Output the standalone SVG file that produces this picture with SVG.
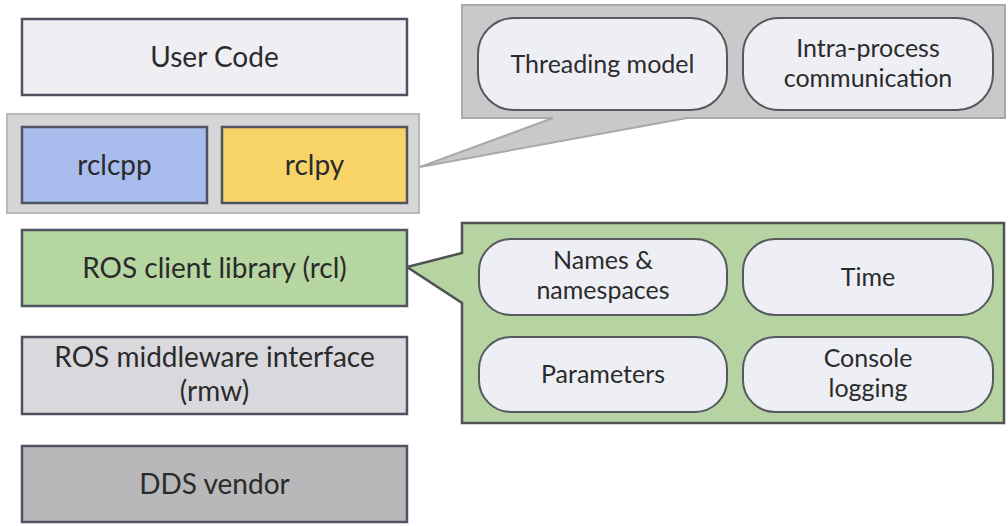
<svg xmlns="http://www.w3.org/2000/svg" width="1008" height="526" viewBox="0 0 1008 526">
<style>
text{font-family:Lato,"Open Sans","Liberation Sans",sans-serif;fill:#2b2b2b;text-anchor:middle}
.big{font-size:28px}
.sm{font-size:25px}
.box{stroke:#4f5361;stroke-width:2.5}
.pill{fill:#eeeff4;stroke:#56595e;stroke-width:2}
</style>
<rect width="1008" height="526" fill="#ffffff"/>
<g id="connectors">
<path id="callout-top" d="M462,5 H1005 V118 H687 L420,167 L553,118 H462 Z" fill="#c9c9c9" stroke="#a9a9a9" stroke-width="2"/>
<path id="callout-rcl" d="M462,223 H1004 V423 H462 V303 L407,267 L462,253 Z" fill="#b6d4a1" stroke="#4f5252" stroke-width="2.5"/>
</g>
<g id="user-code">
<rect class="box" x="22" y="19" width="385" height="76" fill="#efeff3"/>
<text class="big" x="214.5" y="67">User Code</text>
</g>
<g id="client-libs">
<rect x="7" y="114" width="412" height="99" fill="#d6d6d6" stroke="#b8b8b8" stroke-width="2"/>
</g>
<g id="rclcpp">
<rect class="box" x="22" y="127" width="185" height="76" fill="#a8bcee"/>
<text class="big" x="114.5" y="175">rclcpp</text>
</g>
<g id="rclpy">
<rect class="box" x="222" y="127" width="185" height="76" fill="#f8d468"/>
<text class="big" x="314.5" y="175">rclpy</text>
</g>
<g id="rcl">
<rect class="box" x="22" y="230" width="385" height="76" fill="#b7d7a2"/>
<text class="big" x="214.5" y="278">ROS client library (rcl)</text>
</g>
<g id="rmw">
<rect class="box" x="22" y="337" width="385" height="77" fill="#d9d9dd"/>
<text class="big" x="214.5" y="367">ROS middleware interface</text>
<text class="big" x="214.5" y="401">(rmw)</text>
</g>
<g id="dds">
<rect class="box" x="22" y="446" width="385" height="76" fill="#b8b8ba"/>
<text class="big" x="214.5" y="494">DDS vendor</text>
</g>
<g id="threading">
<rect class="pill" x="478" y="18" width="249" height="92" rx="36"/>
<text class="sm" x="602.5" y="73">Threading model</text>
</g>
<g id="intra">
<rect class="pill" x="743" y="18" width="250" height="92" rx="36"/>
<text class="sm" x="868" y="57">Intra-process</text>
<text class="sm" x="868" y="87">communication</text>
</g>
<g id="names">
<rect class="pill" x="479" y="239" width="248" height="76" rx="32"/>
<text class="sm" x="603" y="269">Names &amp;</text>
<text class="sm" x="603" y="299">namespaces</text>
</g>
<g id="time">
<rect class="pill" x="743" y="239" width="250" height="76" rx="32"/>
<text class="sm" x="868" y="286">Time</text>
</g>
<g id="parameters">
<rect class="pill" x="479" y="337" width="248" height="75" rx="32"/>
<text class="sm" x="603" y="383">Parameters</text>
</g>
<g id="console">
<rect class="pill" x="743" y="337" width="250" height="75" rx="32"/>
<text class="sm" x="868" y="367">Console</text>
<text class="sm" x="868" y="397">logging</text>
</g>
</svg>
